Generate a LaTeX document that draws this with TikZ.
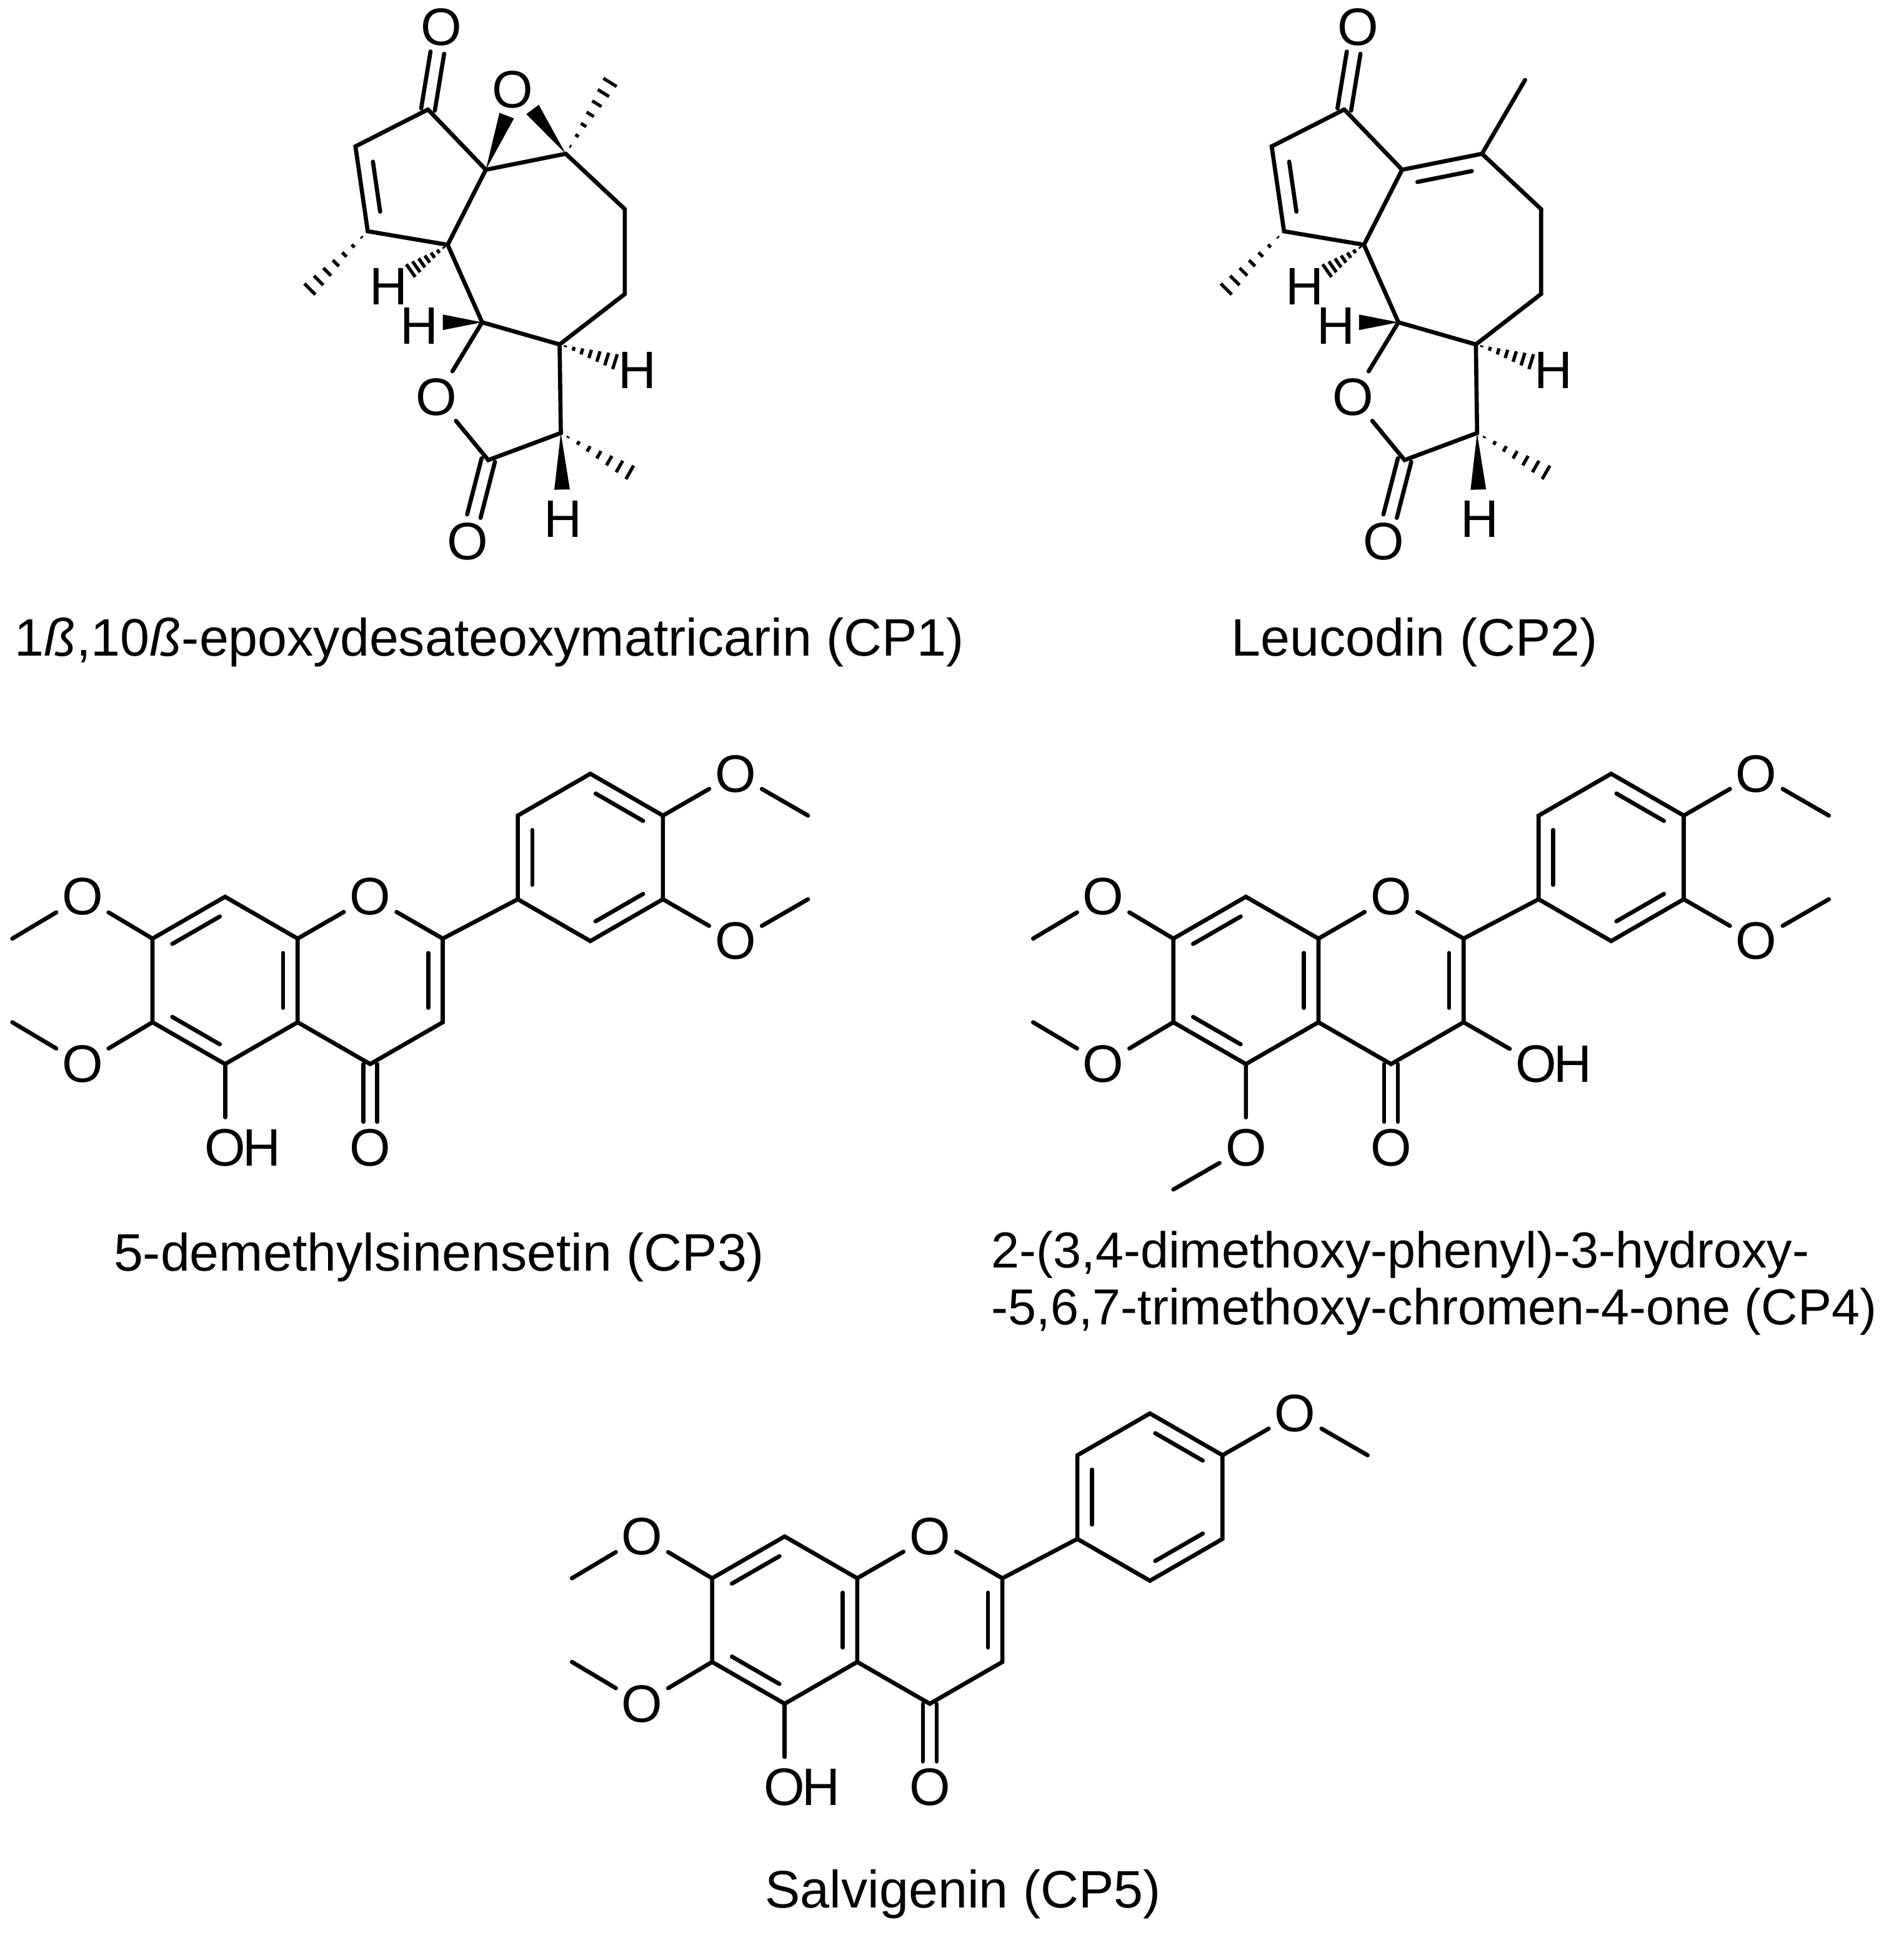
\documentclass[tikz,border=0pt]{standalone}
\usepackage{fontspec}
\setmainfont{Liberation Sans}
\usetikzlibrary{calc}
\newcommand\fs{\fontsize{61}{72}\selectfont}
\newcommand\fss{\fontsize{58.5}{70}\selectfont}
\tikzset{
 bond/.style={line width=4.8pt,line cap=round},
 atm/.style={circle,inner sep=0pt,minimum size=70pt,font=\fs},
 hlab/.style={circle,inner sep=0pt,minimum size=58pt,font=\fs},
 captxt/.style={inner sep=0pt,font=\fs},
}
\newcommand\inl[4]{\draw[bond,shorten <=7pt,shorten >=7pt] ($(#1)!#4!(#3)$) -- ($(#2)!#4!(#3)$);}
\newcommand\dbl[2]{%
 \draw[bond,shorten >=30pt] ($(#1)!8pt!90:(#2)$) -- ($(#2)!8pt!-90:(#1)$);
 \draw[bond,shorten >=30pt] ($(#1)!8pt!-90:(#2)$) -- ($(#2)!8pt!90:(#1)$);}
\newcommand\hashb[2]{%
 \foreach \i in {1,...,7}{%
  \pgfmathsetmacro\tt{(\i-0.3)/6.7}
  \path ($(#1)!\tt!(#2)$) coordinate (hp);
  \draw[line width=3.8pt] ($(hp)!\tt*9pt!90:(#1)$) -- ($(hp)!\tt*9pt!-90:(#1)$);}}
\newcommand\wedgeb[2]{\fill ($(#2)!9pt!90:(#1)$) -- (#1) -- ($(#2)!9pt!-90:(#1)$) -- cycle;}
% sesquiterpene core
\newcommand\sesq[1]{%
 \coordinate (#1C1) at (348,89);
 \node[atm] (#1Ok) at (359,22) {O};
 \coordinate (#1C2) at (289,119);
 \coordinate (#1C3) at (299,188);
 \coordinate (#1C4) at (364,199);
 \coordinate (#1C5) at (395,138);
 \coordinate (#1C10) at (460,125);
 \coordinate (#1C9) at (508,170);
 \coordinate (#1C8) at (508,239);
 \coordinate (#1C7) at (455,280);
 \coordinate (#1C6) at (392,262);
 \node[atm] (#1Ol) at (355,323) {O};
 \coordinate (#1C12) at (397,374);
 \node[atm] (#1O12) at (380,440) {O};
 \coordinate (#1C11) at (456,352);
 \node[hlab] (#1H11) at (458,422) {H};
 \coordinate (#1H11e) at (457,398);
 \coordinate (#1Me11) at (512,384);
 \node[hlab] (#1H7) at (518,301) {H};
 \coordinate (#1H7e) at (500,294);
 \node[hlab] (#1H6) at (341,265) {H};
 \coordinate (#1H6e) at (360,262);
 \node[hlab] (#1H4) at (316,233) {H};
 \coordinate (#1H4e) at (334,220);
 \coordinate (#1Me3) at (252,235);
 \coordinate (#1c5r) at (339,147);
 \draw[bond] (#1C1)--(#1C2)--(#1C3)--(#1C4)--(#1C5)--(#1C1);
 \inl{#1C2}{#1C3}{#1c5r}{0.27}
 \dbl{#1C1}{#1Ok}
 \draw[bond] (#1C5)--(#1C10)--(#1C9)--(#1C8)--(#1C7)--(#1C6)--(#1C4);
 \draw[bond] (#1C6)--(#1Ol)--(#1C12)--(#1C11)--(#1C7);
 \dbl{#1C12}{#1O12}
 \hashb{#1C3}{#1Me3}
 \hashb{#1C4}{#1H4e}
 \hashb{#1C7}{#1H7e}
 \hashb{#1C11}{#1Me11}
 \wedgeb{#1C6}{#1H6e}
 \wedgeb{#1C11}{#1H11e}
}
% flavone core
\newcommand\flav[1]{%
 \coordinate (#1a1) at (183,729);
 \coordinate (#1a2) at (242,763);
 \coordinate (#1a3) at (242,831);
 \coordinate (#1a4) at (183,865);
 \coordinate (#1a5) at (124,831);
 \coordinate (#1a6) at (124,763);
 \coordinate (#1ca) at (183,797);
 \coordinate (#1cc) at (301,797);
 \coordinate (#1cb) at (480,697);
 \node[atm] (#1O1) at (301,729) {O};
 \coordinate (#1c2) at (360,763);
 \coordinate (#1c3) at (360,831);
 \coordinate (#1c4) at (301,865);
 \node[atm] (#1O4) at (301,933) {O};
 \coordinate (#1b1) at (480,629);
 \coordinate (#1b2) at (539,663);
 \coordinate (#1b3) at (539,731);
 \coordinate (#1b4) at (480,765);
 \coordinate (#1b5) at (421,731);
 \coordinate (#1b6) at (421,663);
 \node[atm] (#1O7) at (67,729) {O};
 \coordinate (#1M7) at (10,763);
 \node[atm] (#1O6) at (67,865) {O};
 \coordinate (#1M6) at (10,831);
 \node[atm] (#1O4p) at (598,629) {O};
 \coordinate (#1M4p) at (657,663);
 \draw[bond] (#1a1)--(#1a2)--(#1a3)--(#1a4)--(#1a5)--(#1a6)--cycle;
 \draw[bond] (#1a2)--(#1O1)--(#1c2)--(#1c3)--(#1c4)--(#1a3);
 \draw[bond] (#1b1)--(#1b2)--(#1b3)--(#1b4)--(#1b5)--(#1b6)--cycle;
 \draw[bond] (#1c2)--(#1b5);
 \draw[bond] (#1a6)--(#1O7)--(#1M7);
 \draw[bond] (#1a5)--(#1O6)--(#1M6);
 \draw[bond] (#1b2)--(#1O4p)--(#1M4p);
 \inl{#1a6}{#1a1}{#1ca}{0.2}
 \inl{#1a2}{#1a3}{#1ca}{0.2}
 \inl{#1a4}{#1a5}{#1ca}{0.2}
 \inl{#1c2}{#1c3}{#1cc}{0.2}
 \inl{#1b5}{#1b6}{#1cb}{0.2}
 \inl{#1b1}{#1b2}{#1cb}{0.2}
 \inl{#1b3}{#1b4}{#1cb}{0.2}
 \dbl{#1c4}{#1O4}
}
\begin{document}
\begin{tikzpicture}[x=0.05cm,y=-0.05cm]
\useasboundingbox[fill=white] (0,0) rectangle (1548,1573);
% CP1
\sesq{p}
\node[atm] (pOe) at (417,73) {O};
\coordinate (pMe10) at (496,67);
\coordinate (pw1) at (412,94);
\coordinate (pw2) at (433,89);
\wedgeb{pC5}{pw1}
\wedgeb{pC10}{pw2}
\hashb{pC10}{pMe10}
\node[captxt] (cap1) at (398,522) {1\textit{ß},10\textit{ß}-epoxydesateoxymatricarin (CP1)};
% CP2
\begin{scope}[shift={(745,0)}]
\sesq{q}
\coordinate (qMe10) at (495,65);
\coordinate (qc7r) at (440,202);
\inl{qC5}{qC10}{qc7r}{0.17}
\draw[bond] (qC10)--(qMe10);
\end{scope}
\node[captxt] (cap2) at (1150,522) {Leucodin (CP2)};
% CP3
\flav{r}
\node[atm] (rO5) at (183,933) {O};
\node[captxt,anchor=west] (rH5) at ($(rO5.center)+(14,0)$) {H};
\draw[bond] (ra4)--(rO5);
\node[atm] (rO3p) at (598,765) {O};
\coordinate (rM3p) at (657,731);
\draw[bond] (rb3)--(rO3p)--(rM3p);
\node[captxt] (cap3) at (357,1022) {5-demethylsinensetin (CP3)};
% CP4
\begin{scope}[shift={(830,0)}]
\flav{s}
\node[atm] (sO5) at (183,933) {O};
\coordinate (sM5) at (124,967);
\draw[bond] (sa4)--(sO5)--(sM5);
\node[atm] (sO3) at (419,865) {O};
\node[captxt,anchor=west] (sH3) at ($(sO3.center)+(14,0)$) {H};
\draw[bond] (sc3)--(sO3);
\node[atm] (sO3p) at (598,765) {O};
\coordinate (sM3p) at (657,731);
\draw[bond] (sb3)--(sO3p)--(sM3p);
\end{scope}
\node[captxt,anchor=west,font=\fss] (cap4a) at (806,1020) {2-(3,4-dimethoxy-phenyl)-3-hydroxy-};
\node[captxt,anchor=west,font=\fss] (cap4b) at (806,1066) {-5,6,7-trimethoxy-chromen-4-one (CP4)};
% CP5
\begin{scope}[shift={(455,520)}]
\flav{t}
\node[atm] (tO5) at (183,933) {O};
\node[captxt,anchor=west] (tH5) at ($(tO5.center)+(14,0)$) {H};
\draw[bond] (ta4)--(tO5);
\end{scope}
\node[captxt] (cap5) at (783,1540) {Salvigenin (CP5)};
\end{tikzpicture}
\end{document}
